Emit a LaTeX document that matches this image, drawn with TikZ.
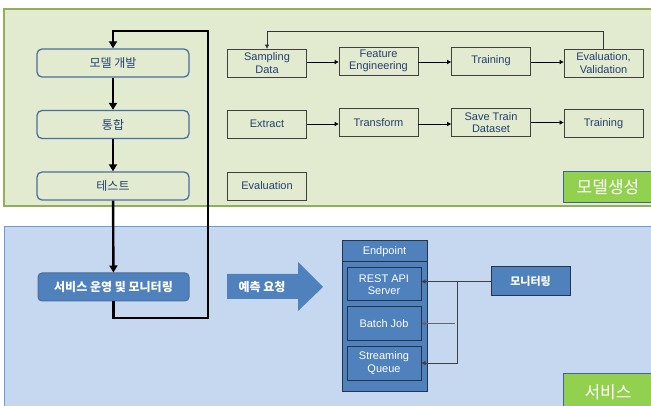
\documentclass[tikz,border=0pt]{standalone}
\usepackage{fontspec}
\setmainfont{Liberation Sans}
\newfontfamily\kr{Noto Sans CJK KR}
\usetikzlibrary{arrows.meta}
\definecolor{gpanel}{HTML}{E2EAD0}
\definecolor{gborder}{HTML}{93AE5A}
\definecolor{bpanel}{HTML}{C6D8EF}
\definecolor{bborder}{HTML}{6E9BD6}
\definecolor{lboxborder}{HTML}{4A6E9E}
\definecolor{navy}{HTML}{243F6E}
\definecolor{accblue}{HTML}{4F81BD}
\definecolor{darkedge}{HTML}{25344A}
\definecolor{lgreen}{HTML}{92D050}
\definecolor{labedge}{HTML}{3F6398}
\definecolor{conn}{HTML}{404040}
\tikzset{
  lbox/.style={draw=lboxborder, line width=1.3pt, fill=gpanel, rounded corners=5pt,
    minimum width=152pt, minimum height=28pt, inner sep=0pt, text=navy,
    font=\kr\fontsize{12}{14}\selectfont},
  rbox/.style={draw=black!75, line width=0.8pt, fill=gpanel,
    minimum width=79pt, minimum height=28pt, inner sep=0pt, text=navy, align=center,
    font=\fontsize{11}{12.5}\selectfont},
  svcbox/.style={draw=lboxborder, line width=1pt, fill=accblue, rounded corners=4pt,
    minimum width=151pt, minimum height=28pt, inner sep=0pt, text=white,
    font=\kr\bfseries\fontsize{12}{14}\selectfont},
  ibox/.style={draw=darkedge, line width=1pt, fill=accblue,
    minimum width=74pt, inner sep=0pt, text=white, align=center,
    font=\fontsize{11}{12.5}\selectfont},
  label/.style={draw=labedge, line width=1pt, fill=lgreen, inner sep=0pt, text=white,
    font=\kr\fontsize{17}{19}\selectfont},
  thickarr/.style={line width=2.4pt, -{Triangle[width=8pt,length=7pt]}},
  thinarr/.style={line width=0.8pt, -{Triangle[width=4pt,length=4pt]}},
  conarr/.style={draw=conn, line width=1pt, -{Triangle[width=4pt,length=4pt]}}
}
\begin{document}
\begin{tikzpicture}[x=1pt,y=-1pt]
\useasboundingbox (0,0) rectangle (651,406);
% panels
\draw[fill=gpanel, draw=gborder, line width=1.5pt] (4,9) rectangle (670,206);
\draw[fill=bpanel, draw=bborder, line width=1pt] (4,227) rectangle (670,420);

% left column
\node[lbox] (dev) at (113,63) {모델 개발};
\node[lbox] (int) at (113,124.5) {통합};
\node[lbox] (tst) at (113,186) {테스트};
\node[svcbox] (svc) at (113.5,287) {서비스 운영 및 모니터링};

\draw[thickarr] (dev) -- (int);
\draw[thickarr] (int) -- (tst);
\draw[thickarr] (tst) -- (svc);
\coordinate (lt) at (208,31);
\coordinate (lb) at (208,318);
\draw[line width=2.4pt, line join=miter] (svc.south) -- (svc.south |- lb) -- (lb) -- (lt) -- (dev.north |- lt) -- ([yshift=-1pt]dev.north |- lt);
\draw[thickarr] (dev.north |- lt) -- (dev.north);

% right pipeline
\node[rbox] (samp) at (267,63) {Sampling\\Data};
\node[rbox] (feat) at (378.5,61) {Feature\\Engineering};
\node[rbox] (trn1) at (491,61) {Training};
\node[rbox] (eval) at (603.5,63) {Evaluation,\\Validation};
\node[rbox] (extr) at (267,124) {Extract};
\node[rbox] (trf) at (378.5,122.5) {Transform};
\node[rbox] (save) at (491,122.5) {Save Train\\Dataset};
\node[rbox] (trn2) at (603.5,123.5) {Training};
\node[rbox] (evl) at (267,186) {Evaluation};

\coordinate (r1) at (0,62);
\coordinate (r2) at (0,124);
\draw[thinarr] (samp.east |- r1) -- (feat.west |- r1);
\draw[thinarr] (feat.east |- r1) -- (trn1.west |- r1);
\draw[thinarr] (trn1.east |- r1) -- (eval.west |- r1);
\draw[thinarr] (extr.east |- r2) -- (trf.west |- r2);
\draw[thinarr] (trf.east |- r2) -- (save.west |- r2);
\coordinate (r2b) at (0,122.5);
\draw[thinarr] (save.east |- r2b) -- (trn2.west |- r2b);
\coordinate (topy) at (0,31);
\draw[thinarr, draw=black!80] (eval.north) -- (eval.north |- topy) -| (samp.north);

% prediction arrow
\fill[accblue] (227,274) -- (298,274) -- (298,262) -- (323,287) -- (298,311) -- (298,299) -- (227,299) -- cycle;
\node[text=white, font=\kr\bfseries\fontsize{12}{14}\selectfont] (req) at (262,286.5) {예측 요청};

% endpoint
\node[draw=darkedge, line width=1pt, fill=accblue, minimum width=85pt, minimum height=150pt, inner sep=0pt] (ep) at (384.5,316) {};
\node[text=white, font=\fontsize{11}{12.5}\selectfont] (ephead) at (384.5,251.5) {Endpoint};
\coordinate (hy) at (0,262);
\draw[darkedge, line width=1pt] (ep.west |- hy) -- (ep.east |- hy);
\node[ibox, minimum height=33pt] (rest) at (384,284.5) {REST API\\Server};
\node[ibox, minimum height=33pt] (batch) at (384,323.5) {Batch Job};
\node[ibox, minimum height=34pt] (strm) at (384,363) {Streaming\\Queue};

% monitoring
\node[draw=darkedge, line width=1pt, fill=accblue, minimum width=79pt, minimum height=29pt, inner sep=0pt, text=white, font=\kr\bfseries\fontsize{11}{13}\selectfont] (mon) at (530.5,281.5) {모니터링};
\coordinate (br) at (457,0);
\draw[conarr] (mon.west) -- (mon.west -| rest.east);
\draw[conarr] (mon.west -| br) -- (br |- strm) -- (strm.east);
\draw[conarr, draw=conn!80, line width=1.5pt] ([xshift=-2pt]br |- batch) -- (batch.east);

% section labels
\node[label, minimum width=90pt, minimum height=31pt] (lab1) at (608,187.5) {모델생성};
\node[label, minimum width=90pt, minimum height=38pt] (lab2) at (608,392) {서비스};
\end{tikzpicture}
\end{document}
